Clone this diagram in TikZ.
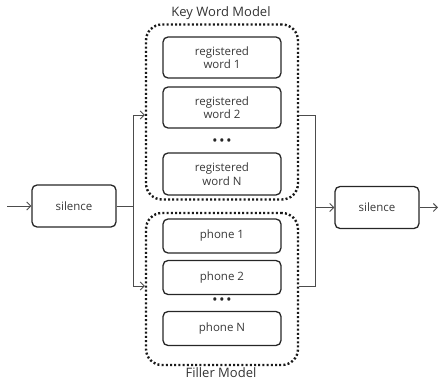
\documentclass[tikz,border=0pt]{standalone}
\usepackage{fontspec}
\setmainfont{Open Sans}
\usetikzlibrary{arrows.meta}
\begin{document}
\begin{tikzpicture}[x=1pt,y=-1pt,
  txt/.style={text=black!78,font=\fontsize{11.5}{13.5}\selectfont},
  unit/.style={draw=black!85,line width=1.3pt,rounded corners=5pt,minimum width=118pt,align=center,inner sep=0pt,txt},
  sil/.style={unit,minimum width=84pt,minimum height=42pt},
  grp/.style={draw=black!90,line width=2.4pt,dash pattern=on 2pt off 2.2pt,rounded corners=16pt},
  conn/.style={draw=black!70,line width=0.9pt},
  arr/.style={conn,-{Straight Barb[length=4pt,width=8pt]}},
  lbl/.style={text=black!80,font=\fontsize{13}{15}\selectfont},
  dots/.style={text=black!85,font=\fontsize{11}{11}\bfseries}]
\useasboundingbox (0,0) rectangle (440,382);
% groups
\node[grp,minimum width=152pt,minimum height=175pt] (kw) at (222,112) {};
\node[grp,minimum width=152pt,minimum height=152pt] (fm) at (222,289) {};
\node[lbl] (kwl) at (221,13) {Key Word Model};
\node[lbl] (fml) at (221,373) {Filler Model};
% key word units
\node[unit,minimum height=41pt] (w1) at (222,57.5) {registered\\word 1};
\node[unit,minimum height=41pt] (w2) at (222,107.5) {registered\\word 2};
\node[dots] (d1) at (222,142) {• • •};
\node[unit,minimum height=42pt] (wn) at (222,174) {registered\\word N};
% filler units
\node[unit,minimum height=34pt] (p1) at (222,236) {phone 1};
\node[unit,minimum height=34pt] (p2) at (222,277.5) {phone 2};
\node[dots] (d2) at (222,301) {• • •};
\node[unit,minimum height=34pt] (pn) at (222,328.5) {phone N};
% silences
\node[sil] (s1) at (74,206) {silence};
\node[sil] (s2) at (377,207.5) {silence};
% connectors
\coordinate (in) at (7,206);
\coordinate (out) at (438,207.5);
\coordinate (jl) at (133,206);
\coordinate (jr) at (315,207.5);
\draw[arr] (in) -- (s1.west);
\draw[conn] (s1.east) -- (jl);
\draw[arr] (jl) |- (kw.west |- 0,115);
\draw[arr] (jl) |- (fm.west |- 0,286);
\draw[conn] (kw.east |- 0,115) -| (jr);
\draw[conn] (fm.east |- 0,286) -| (jr);
\draw[arr] (jr) -- (s2.west);
\draw[arr] (s2.east) -- (out);
\end{tikzpicture}
\end{document}
